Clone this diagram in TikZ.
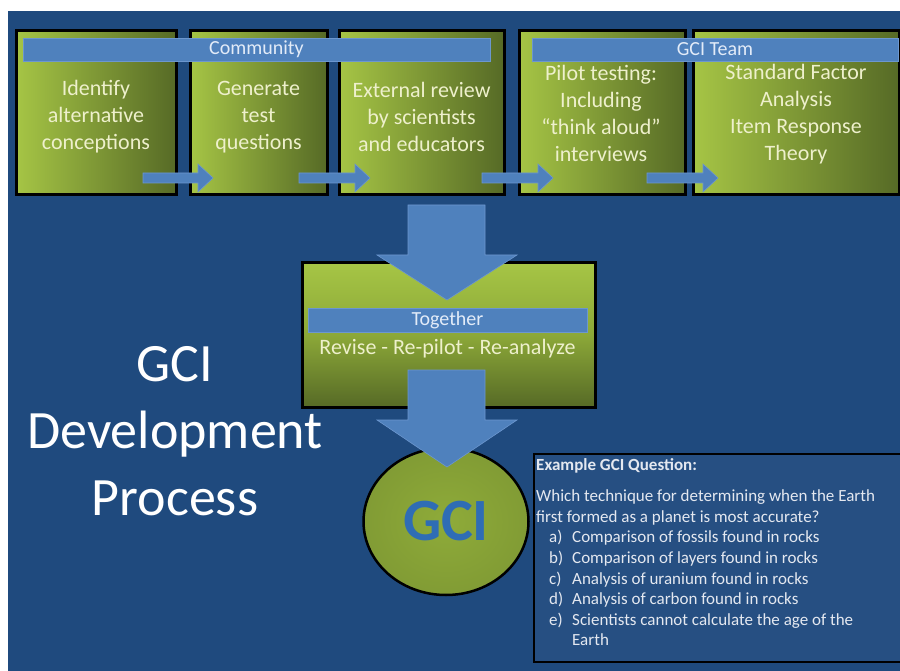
\documentclass[tikz,border=0pt]{standalone}
\usepackage{fontspec}
\setmainfont{Carlito}
\usetikzlibrary{shapes.geometric}
\definecolor{bgblue}{HTML}{1F4A7E}
\definecolor{barblue}{HTML}{4F81BD}
\definecolor{barline}{HTML}{6C97CF}
\definecolor{glight}{HTML}{A6C545}
\definecolor{gdark}{HTML}{566A26}
\definecolor{gmid}{HTML}{8CA838}
\definecolor{boxtext}{HTML}{EEF0CC}
\definecolor{bartext}{HTML}{E2EBF8}
\definecolor{gciblue}{HTML}{2F6DB5}
\definecolor{qtext}{HTML}{E4E8F0}
\begin{document}
\begin{tikzpicture}[x=1pt,y=-1pt,
  stepbox/.style={draw=black, line width=3pt, left color=glight, right color=gdark,
    inner sep=0pt, minimum height=164pt},
  steptext/.style={inner sep=0pt, text=boxtext, font=\fontsize{22}{27}\selectfont, align=center},
  teambar/.style={fill=barblue, draw=barline, line width=0.8pt, inner sep=0pt,
    text=bartext, font=\fontsize{20}{22}\selectfont, minimum height=23pt},
  blockarrow/.style={fill=barblue, draw=barline, line width=0.6pt},
  titletext/.style={text=white, font=\fontsize{54}{67}\selectfont, align=center},
]
\useasboundingbox (0,0) rectangle (900,671);
\fill[white] (0,0) rectangle (900,671);
\fill[bgblue] (8,11) rectangle (900,671);

% top process boxes
\node[stepbox, minimum width=160pt] (b1) at (96,113) {};
\node[stepbox, minimum width=137pt] (b2) at (258.5,113) {};
\node[stepbox, minimum width=165pt] (b3) at (421.5,113) {};
\node[stepbox, minimum width=166pt] (b4) at (602,113) {};
\node[stepbox, minimum width=206pt] (b5) at (796,113) {};
\node[steptext] (b1t) at (96,117) {Identify\\alternative\\conceptions};
\node[steptext] (b2t) at (258.5,117) {Generate\\test\\questions};
\node[steptext] (b3t) at (421.5,117) {External review\\by scientists\\and educators};
\node[steptext] (b4t) at (601,113) {Pilot testing:\\Including\\``think aloud''\\interviews};
\node[steptext] (b5t) at (796,114) {Standard Factor\\Analysis\\Item Response\\Theory};

% group bars
\node[teambar, minimum width=467pt] (community) at (256.5,49.5) {Community};
\node[teambar, minimum width=366pt] (team) at (715,49.5) {GCI Team};

% small arrows between boxes
\newcommand\harrow[3]{\filldraw[blockarrow] (#1,#3-5) -- (#2-15,#3-5) -- (#2-15,#3-14) -- (#2,#3) -- (#2-15,#3+14) -- (#2-15,#3+5) -- (#1,#3+5) -- cycle;}
\harrow{143}{213}{178}
\harrow{299}{370}{178}
\harrow{482}{553}{178}
\harrow{647}{718}{178}

% middle box
\node[draw=black, line width=3pt, top color=glight, bottom color=gdark, middle color=gmid,
  minimum width=293pt, minimum height=144pt, inner sep=0pt] (together) at (448.5,335) {};
\node[teambar, minimum width=279pt, minimum height=24pt] (togetherbar) at (447.5,320) {Together};
\node[text=boxtext, font=\fontsize{22}{27}\selectfont] (revise) at (447.5,349) {Revise - Re-pilot - Re-analyze};

% big arrow from top boxes to middle box
\filldraw[blockarrow] (408,205) -- (485,205) -- (485,255) -- (517,255) -- (447,300) -- (377,255) -- (408,255) -- cycle;

% GCI circle
\node[ellipse, draw=black, line width=2.5pt, inner color=gmid!90!glight, outer color=gmid!80!gdark,
  minimum width=165pt, minimum height=147pt, inner sep=0pt, text=gciblue,
  font=\fontsize{60}{60}\selectfont\bfseries] (gci) at (446,521.5) {GCI};

% big arrow from middle box to circle
\filldraw[blockarrow] (408,370) -- (485,370) -- (485,420) -- (517,420) -- (447,467) -- (377,420) -- (408,420) -- cycle;

% title
\node[titletext] (title) at (175,431) {GCI\\Development\\Process};

% example question box
\node[draw=black, line width=2pt, fill=bgblue!97!white, minimum width=372pt, minimum height=208pt,
  inner sep=0pt, anchor=north west] (qbox) at (533,453) {};
\node[anchor=north west, inner sep=0pt, text=qtext, align=left,
  font=\fontsize{17}{20.6}\selectfont] (qtext) at (536,458)
{\textbf{Example GCI Question:}\\[11pt]
Which technique for determining when the Earth\\
first formed as a planet is most accurate?\\
\hspace*{13pt}\makebox[23pt][l]{a)}Comparison of fossils found in rocks\\
\hspace*{13pt}\makebox[23pt][l]{b)}Comparison of layers found in rocks\\
\hspace*{13pt}\makebox[23pt][l]{c)}Analysis of uranium found in rocks\\
\hspace*{13pt}\makebox[23pt][l]{d)}Analysis of carbon found in rocks\\
\hspace*{13pt}\makebox[23pt][l]{e)}Scientists cannot calculate the age of the\\
\hspace*{36pt}Earth};
\end{tikzpicture}
\end{document}
